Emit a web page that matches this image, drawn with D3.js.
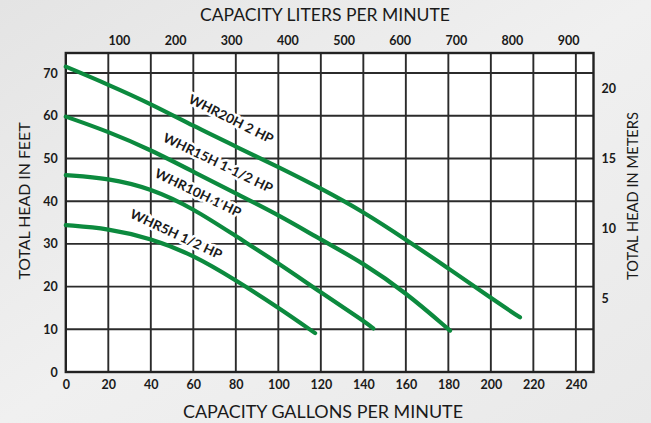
<!DOCTYPE html>
<html>
<head>
<meta charset="utf-8">
<script src="https://cdn.jsdelivr.net/npm/d3@7/dist/d3.min.js"></script>
<style>
  html, body { margin: 0; padding: 0; background: #ececec; }
  svg { display: block; }
  text { font-family: Lato, "Open Sans", sans-serif; fill: #1a1a1a; }
</style>
</head>
<body>
<svg id="chart" width="651" height="423"></svg>
<script>
// ---------- data ----------
const gpmTicks = [0, 20, 40, 60, 80, 100, 120, 140, 160, 180, 200, 220, 240];
const feetTicks = [0, 10, 20, 30, 40, 50, 60, 70];
const literTicks = [100, 200, 300, 400, 500, 600, 700, 800, 900];
const meterTicks = [5, 10, 15, 20];

const seriesNames = ["WHR20H 2 HP", "WHR15H 1-1/2 HP", "WHR10H 1 HP", "WHR5H 1/2 HP"];
const gpm20 = [0, 20, 40, 60, 80, 100, 120, 140, 160, 180, 200, 213.7];
const head20 = [71.5, 67.3, 62.8, 57.6, 52.8, 48.0, 43.0, 37.5, 31.0, 24.3, 17.3, 12.8];
const gpm15 = [0, 20, 40, 60, 80, 100, 120, 140, 160, 180.8];
const head15 = [59.8, 56.3, 52.0, 46.9, 41.8, 36.8, 31.0, 25.5, 18.6, 9.7];
const gpm10 = [0, 20, 40, 60, 80, 100, 120, 140, 144.7];
const head10 = [46.1, 45.4, 43.0, 38.3, 31.8, 25.5, 18.6, 12.0, 10.2];
const gpm5 = [0, 20, 40, 60, 80, 100, 117.3];
const head5 = [34.4, 33.6, 31.3, 27.4, 21.5, 15.1, 9.1];

// label anchors (gpm, feet)
const labelGpm = [76.8, 70.7, 61.3, 51.0];
const labelFeet = [58.3, 48.0, 41.0, 31.3];

const GPM_PER_LITER = 1 / 3.78541;
const FEET_PER_METER = 3.28084;

(function draw() {
  const svg = d3.select("#chart");
  const W = 651, H = 423;
  const pL = 65.8, pR = 593.5, pT = 53, pB = 372;
  const gpmMax = 248.3, feetMax = 74.7;

  const defs = svg.append("defs");
  const grad = defs.append("linearGradient").attr("id", "bg").attr("x1", 0).attr("y1", 0).attr("x2", 1).attr("y2", 1);
  grad.append("stop").attr("offset", "0%").attr("stop-color", "#e4e4e4");
  grad.append("stop").attr("offset", "50%").attr("stop-color", "#f0f0f0");
  grad.append("stop").attr("offset", "100%").attr("stop-color", "#e9e9e9");
  svg.append("rect").attr("width", W).attr("height", H).attr("fill", "url(#bg)");

  const x = d3.scaleLinear().domain([0, gpmMax]).range([pL, pR]);
  const y = d3.scaleLinear().domain([0, feetMax]).range([pB, pT]);

  svg.append("rect").attr("x", pL).attr("y", pT).attr("width", pR - pL).attr("height", pB - pT).attr("fill", "#fff");

  const gridColor = "#2b2b2b";
  const g = svg.append("g");
  g.selectAll("line.v").data(gpmTicks.filter(d => d > 0)).join("line").attr("class", "v")
    .attr("x1", d => x(d)).attr("x2", d => x(d)).attr("y1", pT).attr("y2", pB)
    .attr("stroke", gridColor).attr("stroke-width", 1.9);
  g.selectAll("line.h").data(feetTicks.filter(d => d > 0)).join("line").attr("class", "h")
    .attr("x1", pL).attr("x2", pR).attr("y1", d => y(d)).attr("y2", d => y(d))
    .attr("stroke", gridColor).attr("stroke-width", 1.9);

  const angles = [26.6, 25.8, 25.8, 25];
  const lengths = [93, 120, 94, 100];
  const labG = svg.append("g");
  seriesNames.forEach((name, i) => {
    labG.append("text")
      .attr("transform", `translate(${x(labelGpm[i])},${y(labelFeet[i])}) rotate(${angles[i]})`)
      .attr("text-anchor", "middle").attr("dy", "0em")
      .attr("font-size", 13).attr("font-weight", "bold")
      .attr("textLength", lengths[i]).attr("lengthAdjust", "spacingAndGlyphs")
      .attr("stroke", "#fff").attr("stroke-width", 5).attr("paint-order", "stroke")
      .attr("stroke-linejoin", "round")
      .text(name);
  });

  svg.append("rect").attr("x", pL).attr("y", pT).attr("width", pR - pL).attr("height", pB - pT)
    .attr("fill", "none").attr("stroke", "#222").attr("stroke-width", 2.4);

  const gpmSets = [gpm20, gpm15, gpm10, gpm5];
  const headSets = [head20, head15, head10, head5];
  const line = d3.line().x(d => x(d[0])).y(d => y(d[1])).curve(d3.curveBasis);
  gpmSets.forEach((gs, i) => {
    const pts = gs.map((v, j) => [v, headSets[i][j]]);
    svg.append("path").attr("d", line(pts)).attr("fill", "none")
      .attr("stroke", "#0c8a3e").attr("stroke-width", 4.2).attr("stroke-linecap", "round");
  });

  const tickFont = 12.5;
  function styleTicks(sel) {
    sel.select(".domain").remove();
    sel.selectAll("text").attr("font-size", tickFont).attr("font-weight", "bold").attr("fill", "#1a1a1a")
      .style("font-family", "Lato, sans-serif");
  }
  const bx = svg.append("g").attr("transform", `translate(0,${pB + 8})`)
    .call(d3.axisBottom(x).tickValues(gpmTicks).tickSize(0).tickPadding(0));
  styleTicks(bx);

  const ly = svg.append("g").attr("transform", `translate(${pL},0)`)
    .call(d3.axisLeft(y).tickValues(feetTicks).tickSize(0).tickPadding(8));
  styleTicks(ly);

  const xL = d3.scaleLinear().domain([0, gpmMax / GPM_PER_LITER]).range([pL, pR]);
  const tx = svg.append("g").attr("transform", `translate(-3,${pT - 8})`)
    .call(d3.axisTop(xL).tickValues(literTicks).tickSize(0).tickPadding(0));
  styleTicks(tx);

  const yM = d3.scaleLinear().domain([0, feetMax / FEET_PER_METER]).range([pB, pT]);
  const ry = svg.append("g").attr("transform", `translate(${pR},-3)`)
    .call(d3.axisRight(yM).tickValues(meterTicks).tickSize(0).tickPadding(8));
  styleTicks(ry);

  svg.append("text").attr("x", 325).attr("y", 21).attr("text-anchor", "middle")
    .attr("font-size", 16.5).attr("textLength", 250).attr("lengthAdjust", "spacingAndGlyphs")
    .text("CAPACITY LITERS PER MINUTE");
  svg.append("text").attr("x", 323).attr("y", 418).attr("text-anchor", "middle")
    .attr("font-size", 16.5).attr("textLength", 280).attr("lengthAdjust", "spacingAndGlyphs")
    .text("CAPACITY GALLONS PER MINUTE");
  svg.append("text").attr("transform", "translate(30,201) rotate(-90)").attr("text-anchor", "middle")
    .attr("font-size", 16).attr("textLength", 157).attr("lengthAdjust", "spacingAndGlyphs")
    .text("TOTAL HEAD IN FEET");
  svg.append("text").attr("transform", "translate(638,196) rotate(-90)").attr("text-anchor", "middle")
    .attr("font-size", 16).attr("textLength", 168).attr("lengthAdjust", "spacingAndGlyphs")
    .text("TOTAL HEAD IN METERS");
})();
</script>
</body>
</html>
